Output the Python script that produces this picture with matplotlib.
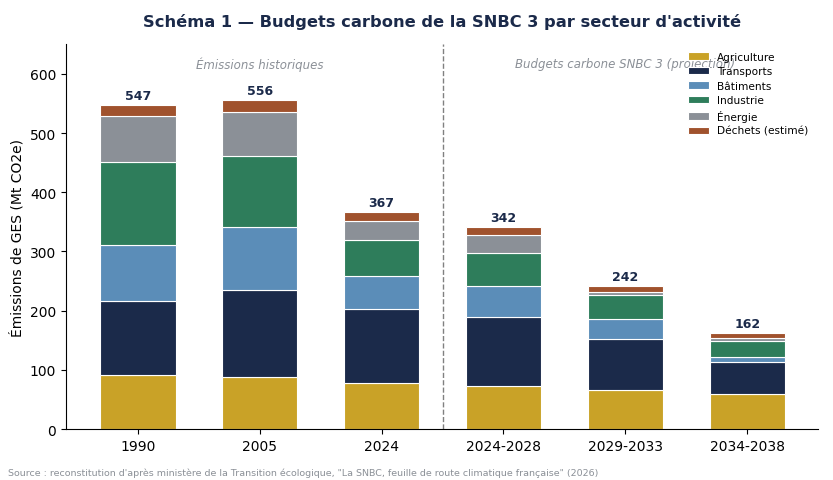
import numpy as np
import matplotlib.pyplot as plt

periodes = ["1990", "2005", "2024", "2024-2028", "2029-2033", "2034-2038"]
secteurs = ["Agriculture", "Transports", "Bâtiments", "Industrie", "Énergie", "Déchets (estimé)"]
agriculture = [92, 88, 77, 73, 66, 59]
transports = [124, 146, 125, 117, 86, 54]
batiments = [94, 108, 57, 51, 33, 8]
industrie = [141, 119, 61, 57, 41, 28]
energie = [78, 74, 32, 29, 5, 5]
dechets = [18, 21, 15, 15, 11, 8]
couleurs = ["#C9A227", "#1B2A4A", "#5B8DB8", "#2E7D5B", "#8B9097", "#A0522D"]

series = [agriculture, transports, batiments, industrie, energie, dechets]

fig, ax = plt.subplots(figsize=(8.33, 4.81), dpi=100)
x = np.arange(len(periodes))
bas = np.zeros(len(periodes))
for vals, nom, c in zip(series, secteurs, couleurs):
    ax.bar(x, vals, 0.62, bottom=bas, color=c, label=nom,
           edgecolor="white", linewidth=0.8)
    bas += np.array(vals)

# totaux au-dessus des barres
for xi, tot in zip(x, bas):
    ax.text(xi, tot + 5, f"{tot:.0f}", ha="center", va="bottom",
            fontsize=9, fontweight="bold", color="#1B2A4A")

ax.axvline(2.5, color="gray", linestyle="--", linewidth=1)
ax.text(1, 617, "Émissions historiques", ha="center", va="center",
        fontsize=8.5, style="italic", color="#8B9097")
ax.text(4, 617, "Budgets carbone SNBC 3 (projection)", ha="center", va="center",
        fontsize=8.5, style="italic", color="#8B9097")

ax.set_xticks(x)
ax.set_xticklabels(periodes, fontsize=10)
ax.tick_params(axis="y", labelsize=10)
ax.set_xlim(-0.59, 5.58)
ax.set_ylim(0, 650)
ax.set_ylabel("Émissions de GES (Mt CO2e)", fontsize=10)
ax.set_title("Schéma 1 — Budgets carbone de la SNBC 3 par secteur d'activité",
             fontsize=11.7, fontweight="bold", color="#1B2A4A", pad=13)
ax.spines["top"].set_visible(False)
ax.spines["right"].set_visible(False)
ax.legend(loc="upper right", frameon=False, fontsize=7.6,
          handlelength=2, labelspacing=0.42, bbox_to_anchor=(1.0, 1.005))

fig.text(0.01, 0.01, "Source : reconstitution d'après ministère de la Transition écologique, "
         "\"La SNBC, feuille de route climatique française\" (2026)",
         fontsize=6.8, color="#8B9097")

plt.subplots_adjust(left=0.079, right=0.982, top=0.906, bottom=0.106)
fig.savefig("out.png", dpi=100)
